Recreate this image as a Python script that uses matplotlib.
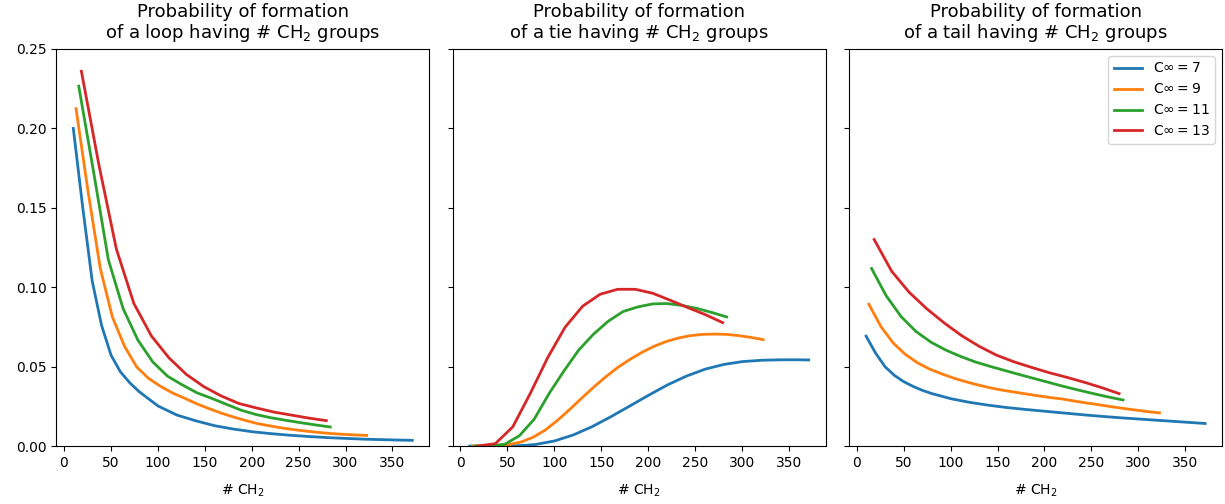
import matplotlib
matplotlib.use('Agg')
import matplotlib.pyplot as plt

#---- x positions (# CH2) for each C_inf ----#
x7 = [10.0, 20.1, 30.1, 40.1, 50.2, 60.2, 70.2, 80.2, 100.3, 120.4, 140.4, 160.5, 180.5,
      200.6, 220.7, 240.7, 260.8, 280.8, 300.8, 320.9, 341.0, 361.1, 371.1]
x9 = [12.9, 25.8, 38.7, 51.6, 64.5, 77.4, 90.3, 103.2, 116.1, 129.0, 141.9, 154.8, 167.7,
      180.6, 193.5, 206.4, 219.3, 232.2, 245.1, 258.0, 270.9, 283.8, 296.7, 309.6, 322.5]
x11 = [15.8, 31.5, 47.3, 63.0, 78.8, 94.6, 110.3, 126.1, 141.8, 157.6, 173.4, 189.1,
       204.9, 220.6, 236.4, 252.2, 267.9, 283.7]
x13 = [18.6, 37.3, 55.9, 74.5, 93.2, 111.8, 130.4, 149.0, 167.7, 186.3, 204.9, 223.6,
       242.2, 260.8, 279.5]

#---- loop probabilities ----#
loop7 = [0.200, 0.150, 0.104, 0.076, 0.0572, 0.0467, 0.0398, 0.0342, 0.0252, 0.0195,
         0.0159, 0.0128, 0.0107, 0.0090, 0.0078, 0.0068, 0.0060, 0.0053, 0.0048, 0.0043,
         0.0040, 0.0037, 0.0036]
loop9 = [0.2124, 0.160, 0.112, 0.0813, 0.0629, 0.0499, 0.0425, 0.0375, 0.0333, 0.0300,
         0.0265, 0.0235, 0.0207, 0.0183, 0.0161, 0.0141, 0.0127, 0.0114, 0.0103, 0.0094,
         0.0086, 0.0079, 0.0074, 0.0070, 0.0067]
loop11 = [0.2266, 0.173, 0.1174, 0.0866, 0.0667, 0.0530, 0.0440, 0.0385, 0.0335, 0.0300,
          0.0262, 0.0225, 0.0198, 0.0178, 0.0162, 0.0147, 0.0133, 0.0120]
loop13 = [0.236, 0.177, 0.124, 0.0898, 0.0693, 0.0556, 0.0451, 0.0374, 0.0315, 0.0268,
          0.0240, 0.0214, 0.0195, 0.0176, 0.0160]

#---- tie probabilities ----#
tie7 = [0.0, 0.0, 0.0, 0.0, 0.0001, 0.0002, 0.0005, 0.0010, 0.0032, 0.0070, 0.0122,
        0.0185, 0.0252, 0.0320, 0.0385, 0.0440, 0.0484, 0.0514, 0.0532, 0.0540, 0.0543,
        0.0543, 0.0542]
tie9 = [0.0, 0.0, 0.0002, 0.0009, 0.0025, 0.0055, 0.0100, 0.0160, 0.0228, 0.0300, 0.0370,
        0.0435, 0.0495, 0.0545, 0.0590, 0.0628, 0.0658, 0.0680, 0.0695, 0.0703, 0.0705,
        0.0703, 0.0695, 0.0684, 0.0670]
tie11 = [0.0, 0.0001, 0.0011, 0.0065, 0.0170, 0.0331, 0.0472, 0.0604, 0.0704, 0.0786,
         0.0847, 0.0876, 0.0895, 0.0897, 0.0885, 0.0866, 0.0841, 0.0813]
tie13 = [0.0, 0.0015, 0.0121, 0.0331, 0.0558, 0.0750, 0.0881, 0.0956, 0.0987, 0.0987,
         0.0962, 0.0918, 0.0872, 0.0828, 0.0777]

#---- tail probabilities ----#
tail7 = [0.0692, 0.0585, 0.0500, 0.0445, 0.0405, 0.0375, 0.0350, 0.0330, 0.0298, 0.0275,
         0.0257, 0.0242, 0.0230, 0.0219, 0.0208, 0.0197, 0.0187, 0.0178, 0.0170, 0.0162,
         0.0154, 0.0146, 0.0142]
tail9 = [0.0893, 0.0752, 0.0650, 0.0578, 0.0525, 0.0485, 0.0455, 0.0428, 0.0405, 0.0385,
         0.0367, 0.0352, 0.0340, 0.0328, 0.0316, 0.0305, 0.0296, 0.0283, 0.0271, 0.0260,
         0.0248, 0.0237, 0.0227, 0.0217, 0.0209]
tail11 = [0.1118, 0.0945, 0.0815, 0.0722, 0.0655, 0.0605, 0.0565, 0.0530, 0.0502, 0.0476,
          0.0450, 0.0425, 0.0400, 0.0375, 0.0352, 0.0330, 0.0309, 0.0290]
tail13 = [0.130, 0.110, 0.0968, 0.0865, 0.0775, 0.0695, 0.0628, 0.0572, 0.0530, 0.0495,
          0.0462, 0.0433, 0.0402, 0.0368, 0.0330]

c_inf = [7, 9, 11, 13]
xs = [x7, x9, x11, x13]
panels = [("loop", [loop7, loop9, loop11, loop13]),
          ("tie", [tie7, tie9, tie11, tie13]),
          ("tail", [tail7, tail9, tail11, tail13])]

#---- figure ----#
fig, axes = plt.subplots(1, 3, figsize=(12.25, 5.04), dpi=100, sharey=True)

for ax, (kind, ys) in zip(axes, panels):
    for c, x, y in zip(c_inf, xs, ys):
        ax.plot(x, y, lw=2, label=r'C$\infty = %d$' % c)
    ax.set_title('Probability of formation\nof a %s having # CH$_2$ groups' % kind,
                 fontsize=13, linespacing=1.05, pad=8)
    ax.set_xlabel('# CH$_2$', fontsize=10, labelpad=9)
    ax.set_xticks([0, 50, 100, 150, 200, 250, 300, 350])
    ax.tick_params(labelsize=10)

axes[0].set_ylim(0, 0.25)
axes[2].legend(loc='upper right', fontsize=10)

plt.subplots_adjust(left=0.046, right=0.9976, top=0.9028, bottom=0.115, wspace=0.063)
plt.savefig('out.png', dpi=100)
